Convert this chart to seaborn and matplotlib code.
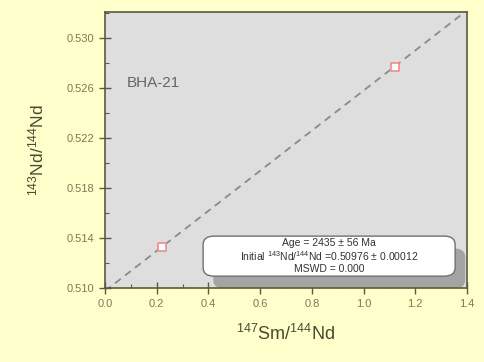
import numpy as np
import pandas as pd
import matplotlib
matplotlib.use("Agg")
import matplotlib.pyplot as plt
from matplotlib.patches import FancyBboxPatch
from matplotlib.ticker import MultipleLocator
import seaborn as sns

# ---- data ----
sm_nd = [0.22, 1.12]
nd_nd = [0.5133, 0.5277]
sample_name = "BHA-21"
age_ma = 2435
age_err = 56
initial_ratio = 0.50976
initial_err = 0.00012
mswd = 0.000
decay_const = 6.54e-12  # 147Sm per year
x_ticks = [0.0, 0.2, 0.4, 0.6, 0.8, 1.0, 1.2, 1.4]
y_ticks = [0.510, 0.514, 0.518, 0.522, 0.526, 0.530]

sns.set_theme(style="white")
plt.rcParams['font.family'] = ['Liberation Sans', 'DejaVu Sans']
plt.rcParams['mathtext.fontset'] = 'custom'
plt.rcParams['mathtext.rm'] = 'Liberation Sans'
plt.rcParams['mathtext.it'] = 'Liberation Sans:italic'
plt.rcParams['mathtext.bf'] = 'Liberation Sans:bold'

fig_bg = "#FFFFCC"
ax_bg = "#DEDEDE"
frame_c = "#5A5A3C"
tick_c = "#7A7A55"

fig = plt.figure(figsize=(4.84, 3.62), dpi=100, facecolor=fig_bg)
ax = fig.add_axes([0.217, 0.2044, 0.748, 0.7625])
ax.set_facecolor(ax_bg)

# isochron line
slope = np.exp(decay_const * age_ma * 1e6) - 1
xl = np.array([x_ticks[0], x_ticks[-1]])
iso = pd.DataFrame({"x": xl, "y": initial_ratio + slope * xl})
sns.lineplot(data=iso, x="x", y="y", ax=ax, color="#8A8A8A", lw=1.3,
             linestyle=(0, (4, 3)), zorder=2)

# data points
pts = pd.DataFrame({"x": sm_nd, "y": nd_nd})
sns.scatterplot(data=pts, x="x", y="y", ax=ax, marker="s", s=38,
                facecolor="white", edgecolor="#F08C8C", linewidth=1.2, zorder=3)

ax.set_xlim(0, 1.4)
ax.set_ylim(0.510, 0.5321)
ax.set_xticks(x_ticks)
ax.set_yticks(y_ticks)
ax.set_xticklabels([f"{v:.1f}" for v in x_ticks])
ax.set_yticklabels([f"{v:.3f}" for v in y_ticks])
ax.xaxis.set_minor_locator(MultipleLocator(0.1))
ax.yaxis.set_minor_locator(MultipleLocator(0.002))
ax.tick_params(axis="both", which="major", direction="inout", length=8, width=1,
               color=frame_c, labelcolor=tick_c, labelsize=8, pad=4,
               bottom=True, left=True)
ax.tick_params(axis="both", which="minor", direction="in", length=3, width=0.8,
               color=frame_c, bottom=True, left=True)
for s in ax.spines.values():
    s.set_color(frame_c)
    s.set_linewidth(1.2)
    s.set_zorder(10)
ax.set_axisbelow(False)

ax.set_xlabel(r"$^{147}$Sm/$^{144}$Nd", fontsize=13, color="#4A4A30", labelpad=11)
ax.set_ylabel(r"$^{143}$Nd/$^{144}$Nd", fontsize=12.5, color="#4A4A30", labelpad=14)

ax.text(0.085, 0.5264, sample_name, fontsize=11, color="#666666", va="center",
        ha="left")

# result box with shadow
bx0, by0, bw, bh = 0.271, 0.043, 0.696, 0.145
sh = FancyBboxPatch((bx0 + 0.028, by0 - 0.045), bw, bh,
                    boxstyle="round,pad=0,rounding_size=0.03",
                    transform=ax.transAxes, facecolor="#A4A4A4",
                    edgecolor="none", zorder=4, clip_on=True)
ax.add_patch(sh)
box = FancyBboxPatch((bx0, by0), bw, bh,
                     boxstyle="round,pad=0,rounding_size=0.03",
                     transform=ax.transAxes, facecolor="white",
                     edgecolor="#707070", linewidth=1.0, zorder=5)
ax.add_patch(box)
cx = bx0 + bw / 2
lines = [f"Age = {age_ma} ± {age_err} Ma",
         r"Initial $^{143}$Nd/$^{144}$Nd =" + f"{initial_ratio:.5f} ± {initial_err:.5f}",
         f"MSWD = {mswd:.3f}"]
for i, t in enumerate(lines):
    ax.text(cx, by0 + bh - 0.026 - i * 0.046, t, transform=ax.transAxes,
            ha="center", va="center", fontsize=7.5, color="#333333", zorder=6)

fig.savefig("out.png", dpi=100, facecolor=fig_bg)
